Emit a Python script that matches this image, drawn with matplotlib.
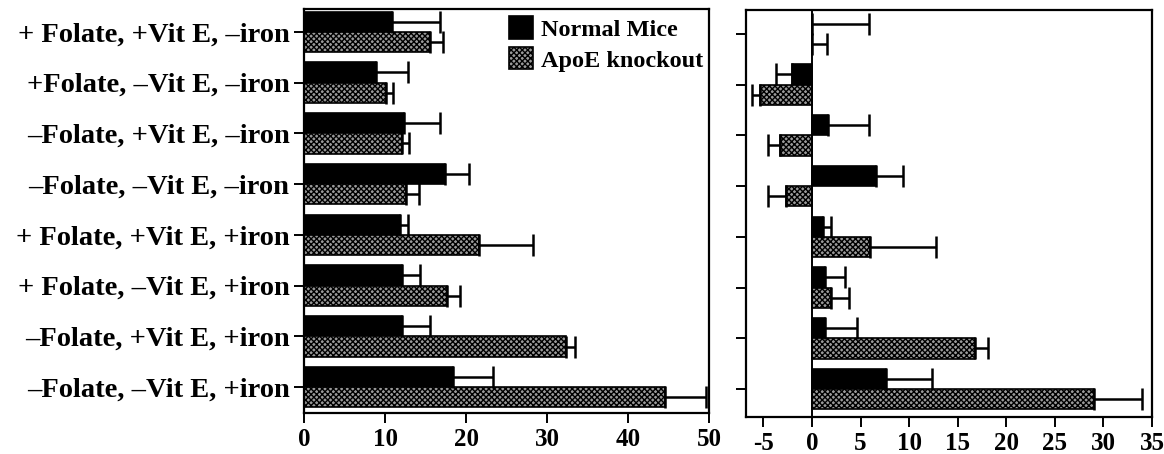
import matplotlib
matplotlib.use("Agg")
import matplotlib.pyplot as plt
import numpy as np

plt.rcParams['font.family'] = ['Liberation Serif', 'DejaVu Serif']
plt.rcParams['font.weight'] = 'bold'
plt.rcParams['hatch.linewidth'] = 1.0

categories = ["+ Folate, +Vit E, \u2013iron", "+Folate, \u2013Vit E, \u2013iron",
              "\u2013Folate, +Vit E, \u2013iron", "\u2013Folate, \u2013Vit E, \u2013iron",
              "+ Folate, +Vit E, +iron", "+ Folate, \u2013Vit E, +iron",
              "\u2013Folate, +Vit E, +iron", "\u2013Folate, \u2013Vit E, +iron"]
series_names = ["Normal Mice", "ApoE knockout"]

# left panel
normal_left = [10.9, 8.9, 12.4, 17.4, 11.9, 12.1, 12.1, 18.4]
normal_left_err = [5.9, 3.9, 4.4, 3.0, 0.9, 2.2, 3.5, 4.9]
apoe_left = [15.6, 10.1, 12.1, 12.6, 21.6, 17.6, 32.3, 44.6]
apoe_left_err = [1.5, 0.9, 0.9, 1.6, 6.7, 1.7, 1.2, 5.0]

# right panel
normal_right = [0.0, -2.1, 1.6, 6.6, 1.1, 1.3, 1.3, 7.6]
normal_right_err = [5.9, 1.6, 4.3, 2.8, 0.8, 2.1, 3.3, 4.8]
apoe_right = [0.0, -5.4, -3.3, -2.7, 6.0, 2.0, 16.8, 29.0]
apoe_right_err = [1.5, 0.8, 1.2, 1.8, 6.8, 1.8, 1.3, 5.0]

left_ticks = [0, 10, 20, 30, 40, 50]
right_ticks = [-5, 0, 5, 10, 15, 20, 25, 30, 35]

fig = plt.figure(figsize=(11.64, 4.54), dpi=100)
axL = fig.add_axes([0.2612, 0.0903, 0.3479, 0.8899])
axR = fig.add_axes([0.6409, 0.0815, 0.3488, 0.8965])

n = len(categories)
ypos = np.arange(n)[::-1].astype(float)
h = 0.4


def one_sided(vals, errs):
    vals = np.asarray(vals, float)
    errs = np.asarray(errs, float)
    lower = np.where(vals < 0, errs, 0.0)
    upper = np.where(vals >= 0, errs, 0.0)
    return [lower, upper]


def draw(ax, nv, ne, av, ae):
    ax.barh(ypos + h / 2, nv, height=h, color='black', edgecolor='black',
            linewidth=1.2, label=series_names[0], zorder=2)
    ax.barh(ypos - h / 2, av, height=h, color='#9a9a9a', edgecolor='black',
            hatch='xxxxxx', linewidth=1.2, label=series_names[1], zorder=2)
    ekw = dict(fmt='none', ecolor='black', elinewidth=1.8, capsize=8,
               capthick=1.8, zorder=3)
    ax.errorbar(nv, ypos + h / 2, xerr=one_sided(nv, ne), **ekw)
    ax.errorbar(av, ypos - h / 2, xerr=one_sided(av, ae), **ekw)
    for s in ax.spines.values():
        s.set_linewidth(1.6)
    ax.set_yticks(ypos)
    ax.tick_params(axis='both', direction='out', length=7, width=1.4,
                   labelsize=18)
    for lab in ax.get_xticklabels():
        lab.set_fontweight('bold')


draw(axL, normal_left, normal_left_err, apoe_left, apoe_left_err)
axL.set_xlim(0, 50)
axL.set_ylim(-0.51, 7.45)
axL.set_xticks(left_ticks)
axL.set_xticklabels([str(t) for t in left_ticks], fontweight='bold', fontsize=18)
axL.set_yticklabels(categories, fontsize=20.5, fontweight='bold')
axL.legend(loc='upper left', bbox_to_anchor=(0.476, 1.012), frameon=False,
           handlelength=1.0, handleheight=1.05,
           handletextpad=0.3, labelspacing=0.25, borderpad=0.0,
           prop={'family': 'Liberation Serif', 'weight': 'bold', 'size': 17.5})

draw(axR, normal_right, normal_right_err, apoe_right, apoe_right_err)
axR.axvline(0, color='black', linewidth=1.4, zorder=4)
axR.set_xlim(-6.8, 35)
axR.set_ylim(-0.55, 7.47)
axR.set_xticks(right_ticks)
axR.set_xticklabels([str(t) for t in right_ticks], fontweight='bold', fontsize=18)
axR.set_yticklabels([])

fig.savefig('out.png', dpi=100)
